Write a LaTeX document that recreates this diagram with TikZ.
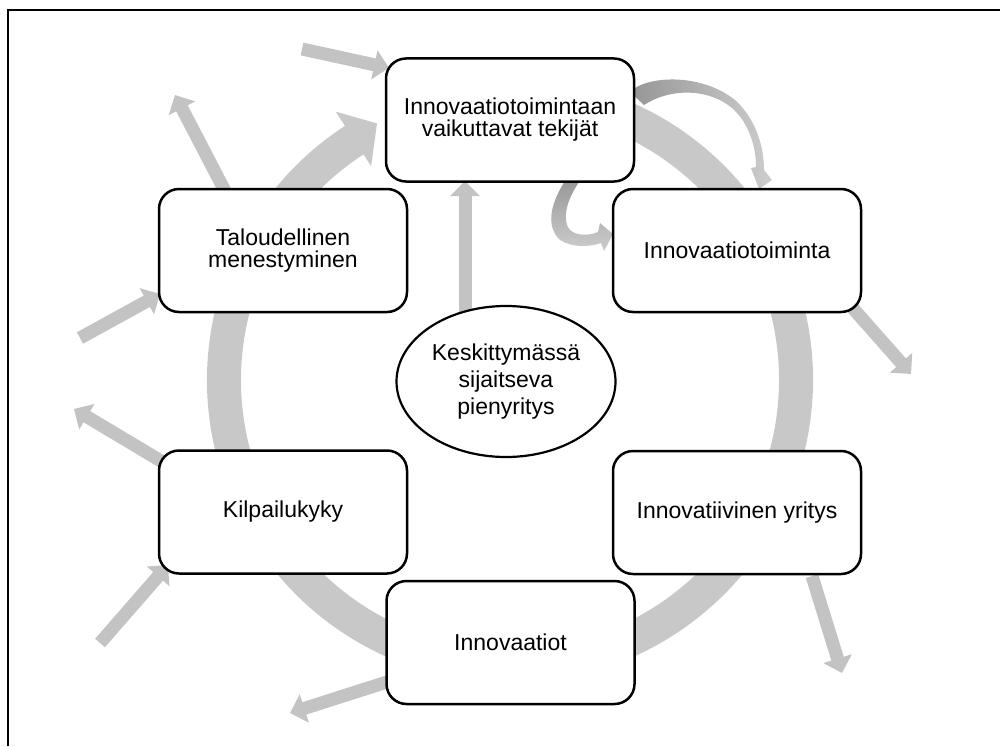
\documentclass[tikz,border=0pt]{standalone}
\usepackage{fontspec}
\setmainfont{Liberation Sans}
\usetikzlibrary{arrows.meta,shapes.geometric}
\pgfdeclarelayer{bg}
\pgfsetlayers{bg,main}
\definecolor{agray}{RGB}{195,195,195}
\definecolor{rgray}{RGB}{200,200,200}
\definecolor{cdark}{RGB}{150,150,150}
\definecolor{clight}{RGB}{205,205,205}
\tikzset{
  box/.style={draw, line width=2.5pt, rounded corners=20pt, fill=white,
    minimum width=248pt, minimum height=123pt, align=center, inner sep=0pt,
    font=\fontsize{23}{22}\selectfont},
  oval/.style={draw, ellipse, line width=2.2pt, fill=white,
    minimum width=219pt, minimum height=151pt, align=center, inner sep=0pt,
    font=\fontsize{23}{27}\selectfont},
  blk/.style={draw=agray, line width=13pt, -{Triangle[length=15pt,width=29pt]}},
}
\begin{document}
\begin{tikzpicture}[x=1pt,y=-1pt]
\useasboundingbox (0,0) rectangle (1000,746);
\draw[line width=2pt] (8,746) -- (8,10) -- (1000,10);

% nodes
\node[box] (top) at (510,120) {Innovaatiotoimintaan\\vaikuttavat tekijät};
\node[box] (tal) at (283,250.5) {Taloudellinen\\menestyminen};
\node[box] (ita) at (737,250.5) {Innovaatiotoiminta};
\node[box] (kil) at (283,512) {Kilpailukyky};
\node[box] (iy)  at (737,512.5) {Innovatiivinen yritys};
\node[box] (inn) at (510.5,642.5) {Innovaatiot};
\node[oval] (ell) at (506,381.5) {Keskittymässä\\sijaitseva\\pienyritys};

% free ends and attachment points
\coordinate (a1t) at (302,49);  \coordinate (a1h) at (389,68);
\coordinate (a2t) at (226,193); \coordinate (a2h) at (175,95);
\coordinate (a3t) at (80,338);  \coordinate (a3h) at (160,294);
\coordinate (a4t) at (166,464); \coordinate (a4h) at (74,409);
\coordinate (a5t) at (100,643); \coordinate (a5h) at (168,565);
\coordinate (a6t) at (390,681); \coordinate (a6h) at (290,713);
\coordinate (a7t) at (812,576); \coordinate (a7h) at (842,673);
\coordinate (a8t) at (850,305); \coordinate (a8h) at (911,374);
\coordinate (a9t) at (465,316); \coordinate (a9h) at (465,181);

\begin{pgfonlayer}{bg}
  % big circular arrow
  \begin{scope}[shift={(510,380)}]
    \fill[rgray] (-80:303) arc[start angle=-80,end angle=237,radius=303]
      -- (237:320) -- (242.6:289) -- (237:255) -- (237:269)
      arc[start angle=237,end angle=-80,radius=269] -- cycle;
  \end{scope}
  % straight block arrows
  \draw[blk] (a1t) -- (a1h);
  \draw[blk] (a2t) -- (a2h);
  \draw[blk] (a3t) -- (a3h);
  \draw[blk] (a4t) -- (a4h);
  \draw[blk] (a5t) -- (a5h);
  \draw[blk] (a6t) -- (a6h);
  \draw[blk] (a7t) -- (a7h);
  \draw[blk] (a8t) -- (a8h);
  \draw[blk] (a9t) -- (a9h);
  % curved arrow over the top right
  \shade[left color=cdark, right color=clight]
    (630,92) .. controls (645,76) and (700,72) .. (735,100)
    .. controls (755,118) and (764,145) .. (764,170)
    -- (772,180) -- (759,189) -- (751,168) -- (756,167)
    .. controls (756,145) and (748,122) .. (732,108)
    .. controls (708,88) and (670,88) .. (644,105) -- cycle;
  % curved arrow below the top box
  \shade[top color=cdark, bottom color=clight]
    (567,178) .. controls (552,200) and (544,225) .. (560,240)
    .. controls (572,248) and (590,247) .. (601,243)
    -- (604,251) -- (613,234) -- (600,223) -- (598,232)
    .. controls (588,236) and (577,236) .. (570,230)
    .. controls (562,222) and (565,200) .. (582,178) -- cycle;
\end{pgfonlayer}
\end{tikzpicture}
\end{document}
